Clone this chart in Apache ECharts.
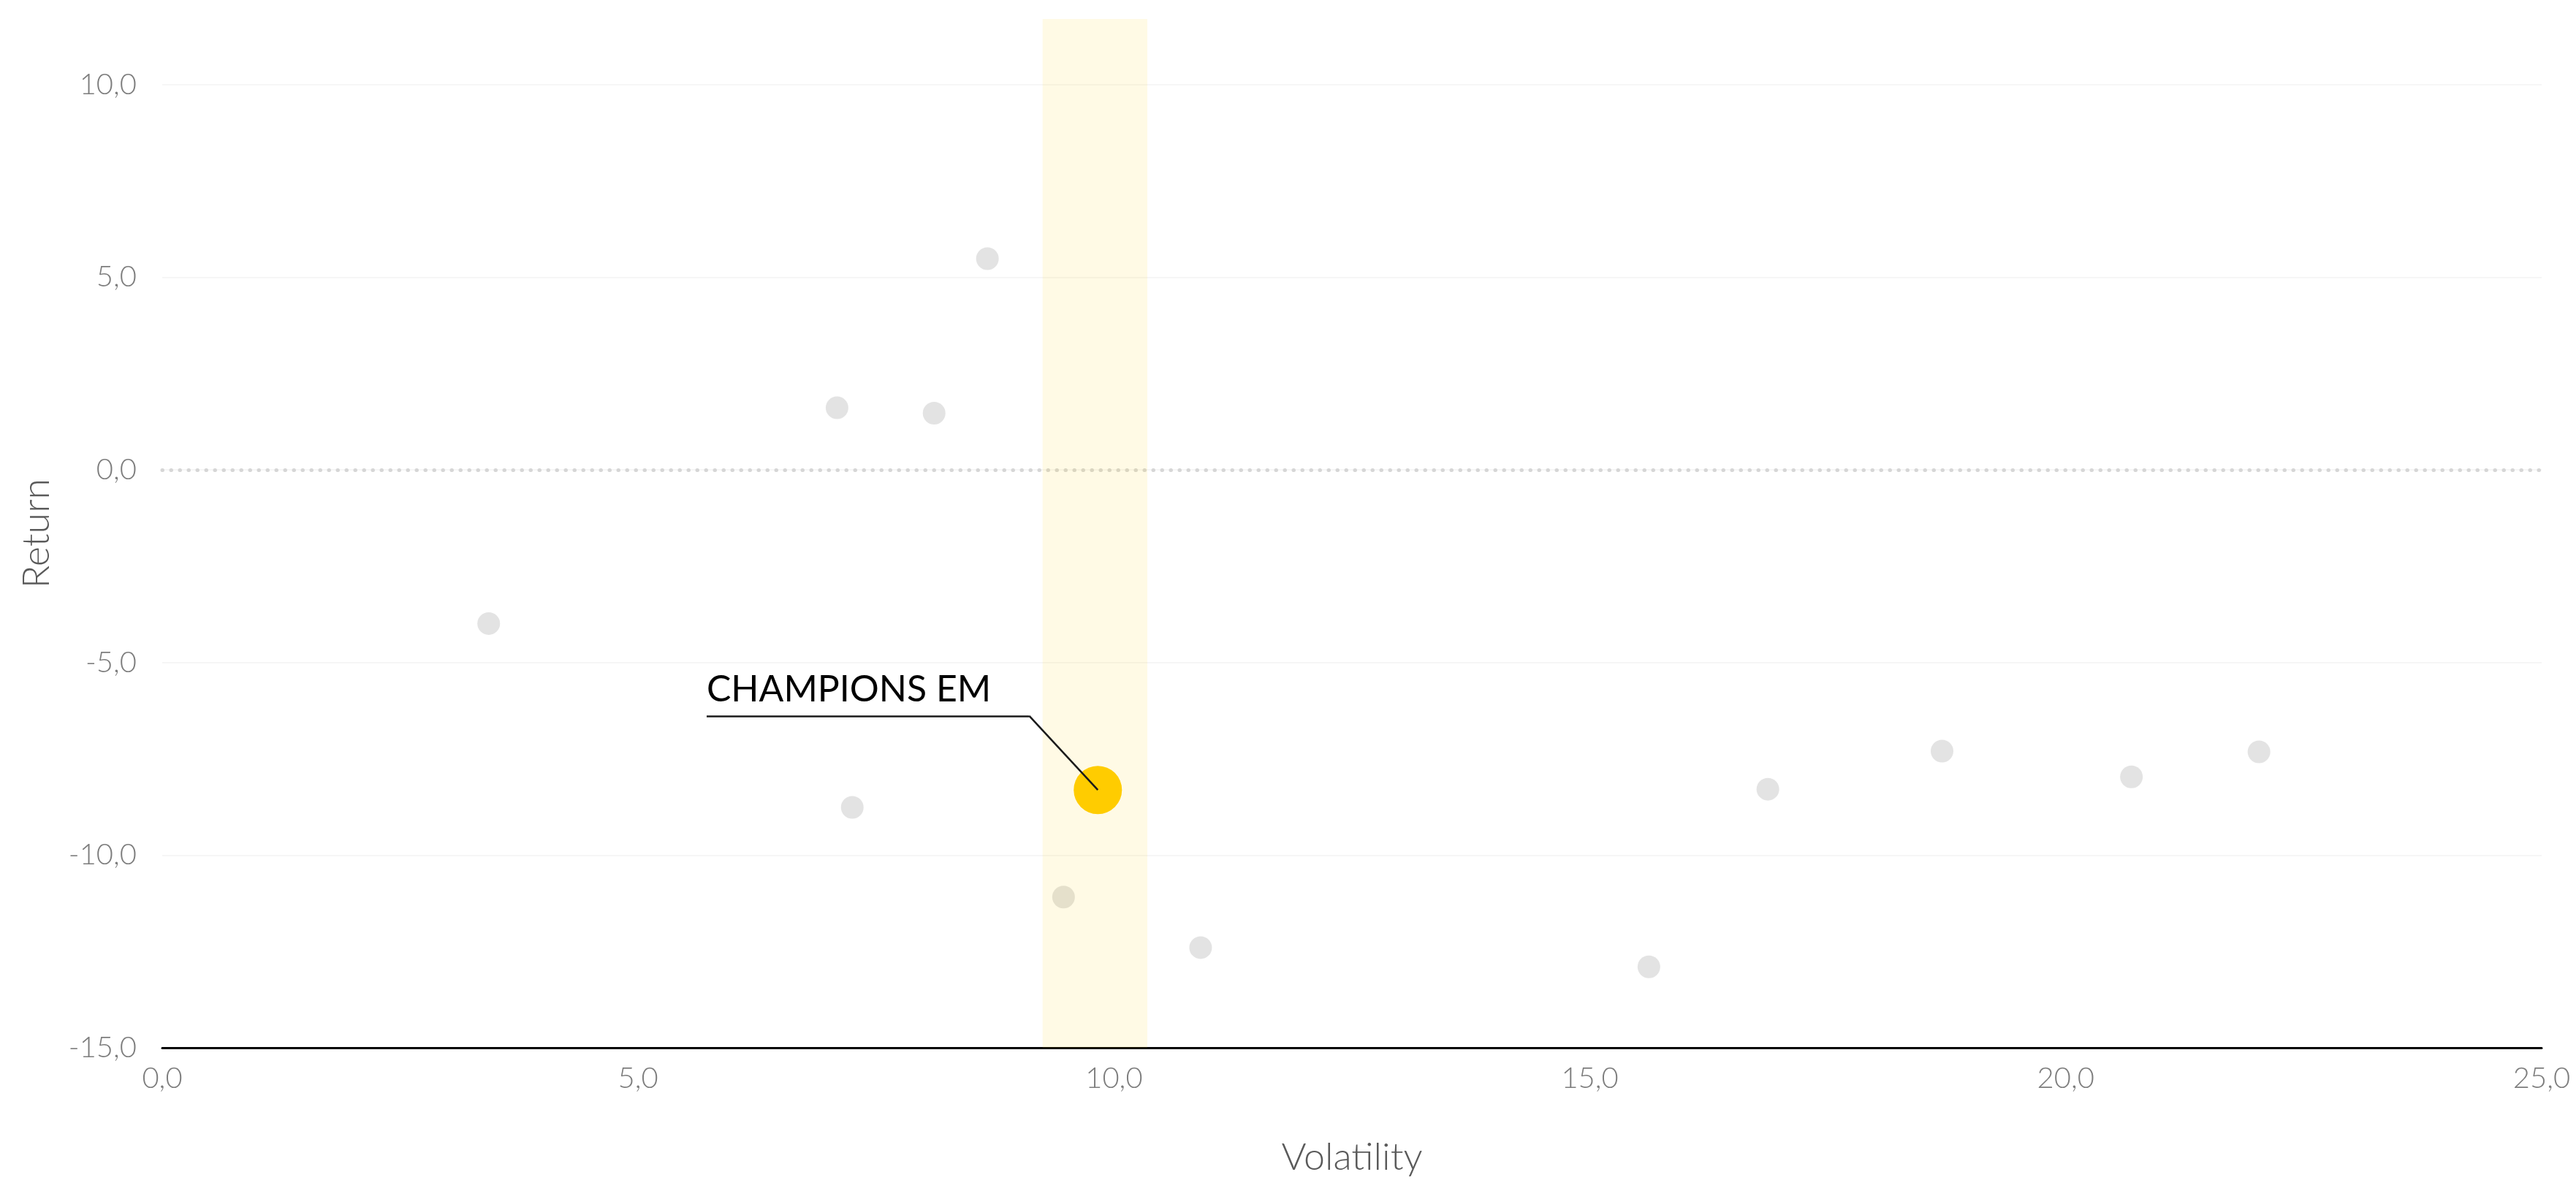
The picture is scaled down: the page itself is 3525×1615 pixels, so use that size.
<!DOCTYPE html>
<html>
<head>
<meta charset="utf-8">
<script src="https://cdn.jsdelivr.net/npm/echarts@6/dist/echarts.min.js"></script>
<style>
  html, body { margin: 0; padding: 0; background: #ffffff; overflow: hidden; }
  #chart { position: absolute; left: 0; top: 0; width: 3525px; height: 1615px; }
</style>
</head>
<body>
<div id="chart"></div>
<script>
// ---- data ----
const peerVolatility = [3.43, 7.09, 8.11, 8.67, 7.25, 9.47, 10.91, 15.62, 16.87, 18.70, 20.69, 22.03];
const peerReturn     = [-3.99, 1.61, 1.47, 5.48, -8.76, -11.09, -12.40, -12.90, -8.29, -7.30, -7.97, -7.32];
const highlightName = 'CHAMPIONS EM';
const highlightVolatility = [9.83];
const highlightReturn = [-8.31];
const bandVolatility = [9.25, 10.35];
const xTicks = [0, 5, 10, 15, 20, 25];
const yTicks = [-15, -10, -5, 0, 5, 10];
const yTop = 11.7;

// annotation leader layout (offsets in axis units, relative to highlighted point)
const leaderElbow = { dx: -0.72, dy: 1.92 };
const leaderTail = -3.39;

const fmt = v => v.toFixed(1).replace('.', ',');

const peers = peerVolatility.map((v, i) => [v, peerReturn[i]]);
const highlight = highlightVolatility.map((v, i) => [v, highlightReturn[i]]);
const hx = highlight[0][0], hy = highlight[0][1];
const ex = hx + leaderElbow.dx, ey = hy + leaderElbow.dy;
const lx = ex + leaderTail;

const chart = echarts.init(document.getElementById('chart'), null, { renderer: 'canvas', width: 3525, height: 1615 });

const axisLabelStyle = {
  color: '#7d7d7d',
  fontFamily: 'Lato',
  fontWeight: 300,
  fontSize: 40
};

chart.setOption({
  animation: false,
  backgroundColor: '#ffffff',
  grid: { left: 222, right: 47, top: 26, bottom: 176, containLabel: false },
  xAxis: {
    type: 'value',
    min: xTicks[0],
    max: xTicks[xTicks.length - 1],
    interval: 5,
    name: 'Volatility',
    nameLocation: 'middle',
    nameGap: 124,
    nameTextStyle: { color: '#5a5a5a', fontFamily: 'Lato', fontWeight: 300, fontSize: 52 },
    axisLine: { show: true, onZero: false, lineStyle: { color: '#000000', width: 3 } },
    axisTick: { show: false },
    splitLine: { show: false },
    axisLabel: Object.assign({ margin: 22, formatter: v => fmt(v) }, axisLabelStyle)
  },
  yAxis: {
    type: 'value',
    min: yTicks[0],
    max: yTop,
    interval: 5,
    name: 'Return',
    nameLocation: 'middle',
    nameGap: 146,
    nameTextStyle: { color: '#5a5a5a', fontFamily: 'Lato', fontWeight: 300, fontSize: 52 },
    axisLine: { show: false },
    axisTick: { show: false },
    splitLine: { show: true, showMaxLine: false, lineStyle: { color: '#f6f6f6', width: 2 } },
    axisLabel: Object.assign({
      margin: 35,
      showMaxLabel: false,
      formatter: v => (yTicks.indexOf(Math.round(v * 100) / 100) >= 0 ? fmt(v) : '')
    }, axisLabelStyle)
  },
  series: [
    {
      name: 'Peers',
      type: 'scatter',
      z: 2,
      data: peers,
      symbol: 'circle',
      symbolSize: 31,
      itemStyle: { color: '#dcdcdc' },
      silent: true,
      markLine: {
        z: 2,
        silent: true,
        symbol: 'none',
        label: { show: false },
        lineStyle: { color: '#d6d6d6', width: 5, type: [0.5, 11.5], cap: 'round' },
        data: [{ yAxis: 0 }]
      }
    },
    {
      name: 'Band',
      type: 'scatter',
      z: 3,
      data: [],
      silent: true,
      markArea: {
        z: 3,
        silent: true,
        itemStyle: { color: 'rgba(255, 204, 0, 0.1)' },
        data: [[{ xAxis: bandVolatility[0], yAxis: 'min' }, { xAxis: bandVolatility[1], yAxis: 'max' }]]
      }
    },
    {
      name: highlightName,
      type: 'scatter',
      z: 4,
      data: highlight,
      symbol: 'circle',
      symbolSize: 66,
      itemStyle: { color: '#ffcc00', opacity: 1 },
      silent: true
    },
    {
      name: 'Annotation',
      type: 'scatter',
      z: 6,
      data: [],
      silent: true,
      markLine: {
        z: 6,
        silent: true,
        symbol: 'none',
        lineStyle: { color: '#1a1a1a', width: 2.5, type: 'solid' },
        data: [
          [
            { coord: [lx, ey], label: {
                show: true, position: 'insideStartTop', distance: [0, 11],
                formatter: highlightName, color: '#000000',
                fontFamily: 'Lato', fontWeight: 400, fontSize: 50
              } },
            { coord: [ex, ey] }
          ],
          [
            { coord: [ex, ey], label: { show: false } },
            { coord: [hx, hy] }
          ]
        ]
      }
    }
  ]
});
</script>
</body>
</html>
